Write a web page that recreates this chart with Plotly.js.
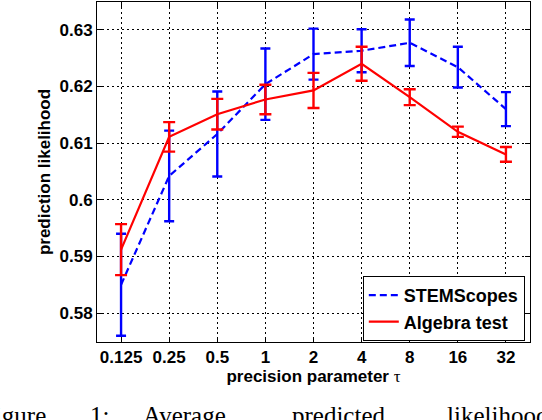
<!DOCTYPE html>
<html>
<head>
<meta charset="utf-8">
<script src="https://cdn.plot.ly/plotly-3.0.1.min.js"></script>
<style>
  body { margin: 0; background: #fff; }
  #myDiv { width: 542px; height: 420px; }
</style>
</head>
<body>
<div id="myDiv"></div>
<script>
// precision parameter tau (categories on the x axis)
var tau = ['0.125', '0.25', '0.5', '1', '2', '4', '8', '16', '32'];

// STEMScopes: mean and error bar half-height
var stemMean = [0.5850, 0.6042, 0.6116, 0.6204, 0.6257, 0.6263, 0.6277, 0.6234, 0.6160];
var stemErr  = [0.0090, 0.0080, 0.0075, 0.0063, 0.0045, 0.0038, 0.0041, 0.0036, 0.0030];

// Algebra test: mean and error bar half-height
var algMean = [0.5912, 0.6111, 0.6151, 0.6177, 0.6193, 0.6240, 0.6181, 0.6120, 0.6080];
var algErr  = [0.0045, 0.0026, 0.0027, 0.0026, 0.0031, 0.0030, 0.0014, 0.0009, 0.0013];

var yTicks = [0.58, 0.59, 0.6, 0.61, 0.62, 0.63];
var yTickText = ['0.58', '0.59', '0.6', '0.61', '0.62', '0.63'];

var boldFont = {family: 'Liberation Sans, Arial, sans-serif', size: 17, color: '#000', weight: 'bold'};
var legendFont = {family: 'Liberation Sans, Arial, sans-serif', size: 18, color: '#000', weight: 'bold'};

var stem = {
  x: tau,
  y: stemMean,
  name: 'STEMScopes',
  type: 'scatter',
  mode: 'lines',
  line: {color: '#0000ff', width: 2.2, dash: '7px,4px'},
  error_y: {type: 'data', array: stemErr, visible: true, color: '#0000ff', thickness: 2.4, width: 5}
};
var alg = {
  x: tau,
  y: algMean,
  name: 'Algebra test',
  type: 'scatter',
  mode: 'lines',
  line: {color: '#ff0000', width: 2.2},
  error_y: {type: 'data', array: algErr, visible: true, color: '#ff0000', thickness: 2.4, width: 6}
};

var data = [stem, alg];

// caption words (cut off at the edges, as on the page)
var caption = [
  {text: 'Figure', px: -21},
  {text: '1:', px: 88},
  {text: 'Average', px: 141},
  {text: 'predicted', px: 290},
  {text: 'likelihood', px: 445}
];
var plotL = 97, plotW = 433, plotB = 342, plotH = 340;
var annotations = caption.map(function (c) {
  return {
    text: c.text,
    xref: 'paper', yref: 'paper',
    x: (c.px - plotL) / plotW, y: -(399.5 - plotB) / plotH,
    xanchor: 'left', yanchor: 'top',
    showarrow: false,
    font: {family: 'Liberation Serif, DejaVu Serif, serif', size: 25, color: '#000'}
  };
});

var layout = {
  width: 542,
  height: 420,
  margin: {l: 97, r: 12, t: 2, b: 78},
  paper_bgcolor: '#fff',
  plot_bgcolor: '#fff',
  showlegend: true,
  legend: {
    x: 0.988, y: 0.003, xanchor: 'right', yanchor: 'bottom',
    bgcolor: '#fff', bordercolor: '#000', borderwidth: 1,
    font: legendFont,
    tracegroupgap: 0
  },
  xaxis: {
    type: 'category',
    range: [-0.5, 8.5],
    showline: true, linecolor: '#000', linewidth: 1, mirror: 'allticks',
    ticks: 'inside', ticklen: 5, tickcolor: '#000',
    showgrid: true, gridcolor: '#000', gridwidth: 1, griddash: '2px,3px',
    tickfont: boldFont,
    zeroline: false,
    title: {
      text: 'precision parameter <span style="font-family:Liberation Serif, serif;font-weight:normal">τ</span>',
      font: boldFont,
      standoff: 2
    }
  },
  yaxis: {
    range: [0.5749, 0.6349],
    tickvals: yTicks,
    ticktext: yTickText,
    showline: true, linecolor: '#000', linewidth: 1, mirror: 'allticks',
    ticks: 'inside', ticklen: 5, tickcolor: '#000',
    showgrid: true, gridcolor: '#000', gridwidth: 1, griddash: '2px,3px',
    tickfont: boldFont,
    zeroline: false,
    title: {text: 'prediction likelihood', font: boldFont, standoff: 4}
  },
  annotations: annotations
};

Plotly.newPlot('myDiv', data, layout, {displayModeBar: false, staticPlot: true});
</script>
</body>
</html>
